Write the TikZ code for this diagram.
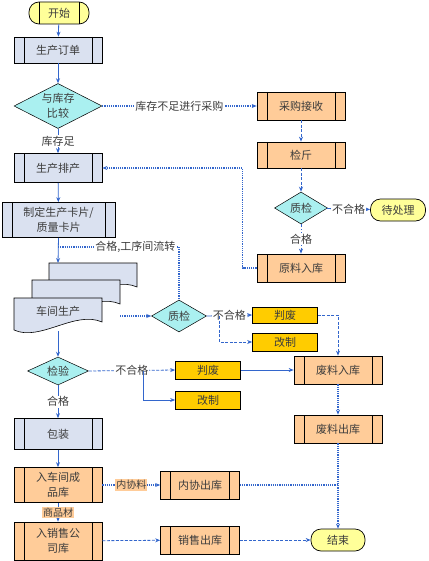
\documentclass[tikz,border=0pt]{standalone}
\usepackage{fontspec}
\setmainfont{Noto Sans CJK SC}
\usetikzlibrary{arrows.meta,shapes.geometric}
\definecolor{lineblue}{RGB}{51,102,204}
\definecolor{procgray}{RGB}{218,225,240}
\definecolor{whorange}{RGB}{255,204,153}
\definecolor{scrapgold}{RGB}{255,204,0}
\definecolor{deccyan}{RGB}{170,240,240}
\definecolor{termyellow}{RGB}{255,255,153}
\definecolor{txtgray}{RGB}{60,60,60}

\begin{document}
\begin{tikzpicture}[x=1pt,y=-1pt,->,>={Stealth[length=5pt,width=4pt]},color=lineblue,line width=0.8pt,
  every node/.style={font=\fontsize{11}{15}\selectfont,text=txtgray,align=center},
  twin/.style={path picture={\draw[-,black,line width=0.7pt]
    ([xshift=#1]path picture bounding box.north west) -- ([xshift=#1]path picture bounding box.south west)
    ([xshift=-#1]path picture bounding box.north east) -- ([xshift=-#1]path picture bounding box.south east);}},
  box/.style={draw=black,line width=0.7pt,minimum width=88pt,inner sep=1pt,twin=10pt},
  proc/.style={box,fill=procgray},
  wh/.style={box,fill=whorange},
  scrap/.style={draw=black,line width=0.7pt,fill=scrapgold,minimum width=65pt,minimum height=18pt,inner sep=0pt},
  dec/.style={diamond,draw=black,line width=0.5pt,fill=deccyan,aspect=2,inner sep=0pt},
  term/.style={draw=black,line width=0.7pt,fill=termyellow,rounded corners=10pt,minimum height=22pt},
  lbl/.style={fill=white,inner sep=1pt},
  dot/.style={densely dotted,line width=1.2pt},
  dsh/.style={dash pattern=on 3pt off 1.5pt}]
  \useasboundingbox (0,0) rectangle (428,561);
  % main column
  \node[term,twin=10pt,minimum width=60pt] (KS) at (59,13) {开始};
  \node[proc,minimum height=26pt] (DD) at (58,50) {生产订单};
  \node[dec,minimum width=88pt,minimum height=45pt] (BJ) at (58,106) {与库存\\比较};
  \node[proc,minimum height=29pt] (PC) at (58,168) {生产排产};
  \node[proc,minimum width=113pt,minimum height=35pt] (KP) at (58.5,220) {制定生产卡片/\\质量卡片};
  \foreach \dx/\dy in {35/-35,18/-18,0/0}
    \filldraw[-,fill=procgray,draw=black,line width=0.6pt,shift={(\dx,\dy)}]
      (14,298) -- (102,298) -- (102,322) .. controls (75,310) and (40,342) .. (14,330) -- cycle;
  \node (CJ) at (58,311) {车间生产};
  \coordinate (CJt) at (58,263);
  \coordinate (CJr) at (120,316);
  \coordinate (CJb) at (58,331);
  \coordinate (HG) at (58,247);
  \node[dec,minimum width=61pt,minimum height=28pt] (JY) at (58,371) {检验};
  \node[proc,minimum height=31pt] (BZ) at (58,434) {包装};
  \node[wh,minimum height=35pt] (CP) at (58,485) {入车间成\\品库};
  \node[wh,minimum height=38pt] (XS) at (58,541) {入销售公\\司库};
  % purchase column
  \node[wh,minimum height=28pt] (CG) at (301,106) {采购接收};
  \node[wh,minimum height=26pt] (JJ) at (301,155) {检斤};
  \node[dec,minimum width=53pt,minimum height=32pt] (ZJa) at (301,208) {质检};
  \node[term,minimum width=55pt] (DC) at (398,210) {待处理};
  \node[wh,minimum height=28pt] (YL) at (301,268) {原料入库};
  % quality check and scrap
  \node[dec,minimum width=55pt,minimum height=32pt] (ZJb) at (179,316) {质检};
  \node[scrap,minimum height=16pt] (PFa) at (285,315) {判废};
  \node[scrap] (GZa) at (285,342) {改制};
  \node[scrap] (PFb) at (208,370) {判废};
  \node[scrap] (GZb) at (208,400) {改制};
  \node[wh,minimum height=28pt] (FR) at (338,370) {废料入库};
  \node[wh,minimum height=28pt] (FC) at (338,429) {废料出库};
  \node[wh,minimum width=79pt,minimum height=28pt] (NX) at (200,485) {内协出库};
  \node[wh,minimum width=79pt,minimum height=28pt] (XC) at (200,540) {销售出库};
  \node[term,minimum width=54pt] (JS) at (338,540) {结束};
  % connectors
  \path (KS) edge (DD);
  \path (DD) edge (BJ);
  \path (BJ) edge[dot] node[lbl] {库存不足进行采购} (CG);
  \path (BJ) edge node[lbl] {库存足} (PC);
  \path (CG) edge[dsh] (JJ);
  \path (JJ) edge[dsh] (ZJa);
  \path (ZJa) edge node[lbl] {不合格} (DC);
  \path (ZJa) edge[dash dot] node[lbl] {合格} (YL);
  \draw[dot] (YL.west) -- ++(-14,0) |- (PC.east);
  \path (PC) edge (KP);
  \draw (KP.south) -- (CJt);
  \draw[dot,-] (HG) -- (ZJb.north |- HG) node[pos=.64,lbl] {合格,工序间流转} -- (ZJb.north);
  \draw[dot] (CJr) -- (ZJb.west);
  \draw (CJb) -- (JY.north);
  \draw (ZJb.east) -- node[lbl] {不合格} (PFa.west);
  \draw[dsh] (ZJb.east) ++(13,0) |- (GZa.west);
  \draw[dsh] (PFa.east) -| (FR.north);
  \draw[dsh] (JY.east) -- node[lbl] {不合格} (PFb.west);
  \draw (JY.east) ++(55,0) |- (GZb.west);
  \path (PFb) edge (FR);
  \path (FR) edge[dot] (FC);
  \path (FC) edge[dot] (JS);
  \draw[dot,-] (NX.east) -- (FC.south |- NX.east);
  \path (JY) edge node[lbl] {合格} (BZ);
  \path (BZ) edge (CP);
  \path (CP) edge[dot] node[lbl,fill=whorange,font=\fontsize{10}{12}\selectfont] {内协料} (NX);
  \path (CP) edge node[lbl,fill=whorange,font=\fontsize{10}{12}\selectfont] {商品材} (XS);
  \path (XS) edge[dsh] (XC);
  \path (XC) edge[dsh] (JS);
\end{tikzpicture}
\end{document}
